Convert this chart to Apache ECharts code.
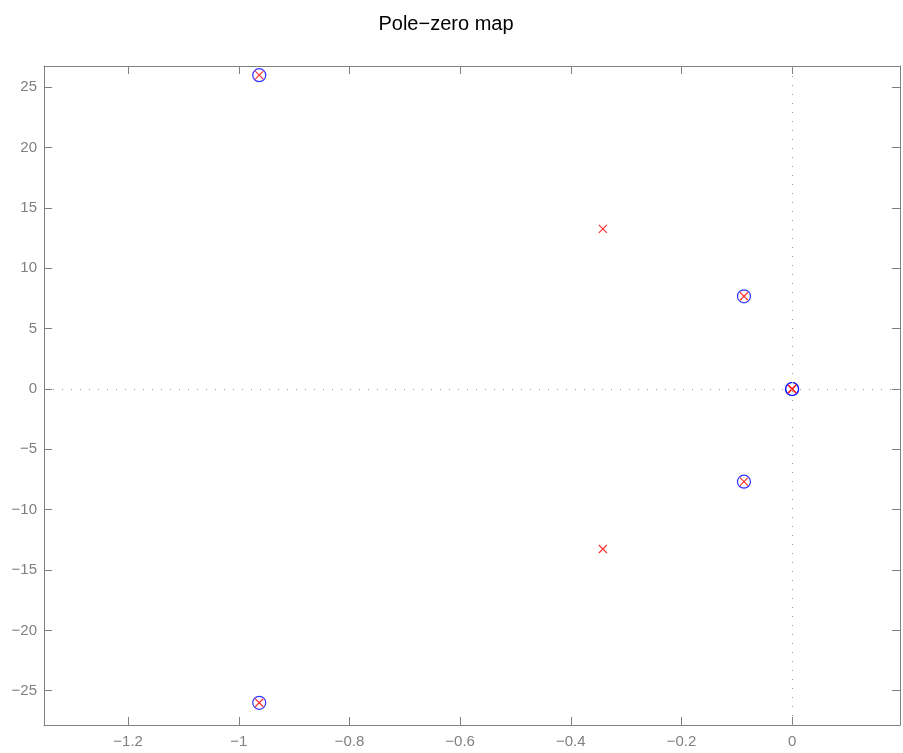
<!DOCTYPE html>
<html>
<head>
<meta charset="utf-8">
<script src="https://cdn.jsdelivr.net/npm/echarts@6/dist/echarts.min.js"></script>
<style>html,body{margin:0;padding:0;background:#fff}#c{width:903px;height:753px}</style>
</head>
<body>
<div id="c"></div>
<script>
// Poles (red x)
var poleRe = [-0.963, -0.963, -0.342, -0.342, -0.087, -0.087, 0, 0];
var poleIm = [26.0, -26.0, 13.26, -13.26, 7.68, -7.68, 0, 0];
// Zeros (blue o)
var zeroRe = [-0.963, -0.963, -0.087, -0.087, 0, 0];
var zeroIm = [26.0, -26.0, 7.68, -7.68, 0, 0];
// Tick labels
var xTicks = [-1.2, -1, -0.8, -0.6, -0.4, -0.2, 0];
var yTicks = [-25, -20, -15, -10, -5, 0, 5, 10, 15, 20, 25];
var xRange = [-1.352, 0.195];
var yRange = [-27.84, 26.76];

function fmt(v) {
  var r = Math.round(v * 1000) / 1000;
  var s = String(Math.abs(r));
  return r < 0 ? '\u2212' + s : s;
}

var poleData = poleRe.map(function (x, i) { return [x, poleIm[i]]; });
var zeroData = zeroRe.map(function (x, i) { return [x, zeroIm[i]]; });

var axisCol = '#808080';
var labelStyle = { color: '#808080', fontFamily: 'Liberation Sans, Arial, Helvetica, sans-serif', fontSize: 15 };

function xAx(pos, showLabel) {
  return {
    type: 'value', position: pos, min: xRange[0], max: xRange[1],
    axisLine: { show: true, onZero: false, lineStyle: { color: axisCol, width: 1 } },
    axisTick: { show: true, inside: true, length: 8, customValues: xTicks, lineStyle: { color: axisCol } },
    axisLabel: { show: showLabel, customValues: xTicks, formatter: fmt, margin: 9, ...labelStyle },
    splitLine: { show: false }
  };
}
function yAx(pos, showLabel) {
  return {
    type: 'value', position: pos, min: yRange[0], max: yRange[1],
    axisLine: { show: true, onZero: false, lineStyle: { color: axisCol, width: 1 } },
    axisTick: { show: true, inside: true, length: 8, customValues: yTicks, lineStyle: { color: axisCol } },
    axisLabel: { show: showLabel, customValues: yTicks, formatter: fmt, margin: 7, ...labelStyle },
    splitLine: { show: false }
  };
}

var chart = echarts.init(document.getElementById('c'), null, { renderer: 'canvas' });
chart.setOption({
  animation: false,
  backgroundColor: '#fff',
  title: {
    text: 'Pole\u2212zero map', left: 441, top: 9, textAlign: 'center',
    textStyle: { color: '#000', fontWeight: 'normal', fontSize: 20, fontFamily: 'Liberation Sans, Arial, Helvetica, sans-serif' }
  },
  grid: { left: 44, right: 3, top: 66, bottom: 28, containLabel: false },
  xAxis: [xAx('bottom', true), xAx('top', false)],
  yAxis: [yAx('left', true), yAx('right', false)],
  series: [
    {
      name: 'zeros', type: 'scatter', xAxisIndex: 0, yAxisIndex: 0,
      data: zeroData, symbol: 'circle', symbolSize: 13,
      itemStyle: { color: 'rgba(0,0,0,0)', borderColor: '#0000ff', borderWidth: 1.2 },
      z: 3,
      markLine: {
        silent: true, symbol: ['none', 'none'], label: { show: false },
        lineStyle: { color: '#999999', type: [1, 8], width: 1 },
        data: [{ xAxis: 0 }, { yAxis: 0 }]
      }
    },
    {
      name: 'poles', type: 'scatter', xAxisIndex: 0, yAxisIndex: 0,
      data: poleData, symbol: 'path://M0,0L10,10M10,0L0,10', symbolSize: 8,
      itemStyle: { color: 'rgba(0,0,0,0)', borderColor: '#ff0000', borderWidth: 1.2 },
      z: 4
    }
  ]
});
</script>
</body>
</html>
